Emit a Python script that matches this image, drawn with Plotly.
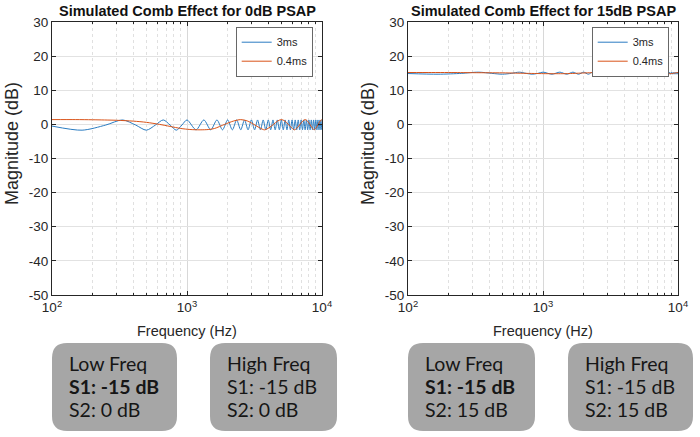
import plotly.graph_objects as go

# ---------------- data ----------------
freq_3ms = [100, 167, 250, 333, 417, 500, 583, 667, 750, 833, 917, 1000,
            1167, 1333, 1500, 1667, 1833, 2000, 2167, 2333, 2500, 2667, 2833, 3000,
            3167, 3333, 3500, 3667, 3833, 4000, 4167, 4333, 4500, 4667, 4833, 5000,
            5167, 5333, 5500, 5667, 5833, 6000, 6167, 6333, 6500, 6667, 6833, 7000,
            7167, 7333, 7500, 7667, 7833, 8000, 8167, 8333, 8500, 8667, 8833, 9000,
            9167, 9333, 9500, 9667, 9833, 10000]
mag_3ms_0dB = [-0.5, -1.7, -0.2, 1.3, -0.2, -1.7, -0.2, 1.3, -0.2, -1.7, -0.2, 1.3,
               -1.6, 1.3, -1.6, 1.3, -1.6, 1.3, -1.6, 1.3, -1.6, 1.3, -1.6, 1.3,
               -1.6, 1.3, -1.6, 1.3, -1.6, 1.3, -1.6, 1.3, -1.6, 1.3, -1.6, 1.3,
               -1.6, 1.3, -1.6, 1.3, -1.6, 1.3, -1.6, 1.3, -1.6, 1.3, -1.6, 1.3,
               -1.6, 1.3, -1.6, 1.3, -1.6, 1.3, -1.6, 1.3, -1.6, 1.3, -1.6, 1.3,
               -1.6, 1.3, -1.6, 1.3, -1.6, 1.3]
mag_3ms_15dB = [14.9, 14.7, 14.95, 15.3, 14.95, 14.7, 14.95, 15.3, 14.95, 14.7, 14.95, 15.3,
                14.7, 15.3, 14.7, 15.3, 14.7, 15.3, 14.7, 15.3, 14.7, 15.3, 14.7, 15.3,
                14.7, 15.3, 14.7, 15.3, 14.7, 15.3, 14.7, 15.3, 14.7, 15.3, 14.7, 15.3,
                14.7, 15.3, 14.7, 15.3, 14.7, 15.3, 14.7, 15.3, 14.7, 15.3, 14.7, 15.3,
                14.7, 15.3, 14.7, 15.3, 14.7, 15.3, 14.7, 15.3, 14.7, 15.3, 14.7, 15.3,
                14.7, 15.3, 14.7, 15.3, 14.7, 15.3]

freq_04ms = [100, 150, 200, 300, 400, 500, 625, 750, 900, 1050, 1250, 1450, 1600,
             1900, 2200, 2500, 2800, 3125, 3450, 3750, 4050, 4375, 4700, 5000,
             5300, 5625, 5950, 6250, 6550, 6875, 7200, 7500, 7800, 8125, 8450,
             8750, 9050, 9375, 9700, 10000]
mag_04ms_0dB = [1.4, 1.4, 1.35, 1.2, 0.95, 0.6, 0.0, -0.6, -1.2, -1.5, -1.6, -1.5, -1.2,
                0.0, 0.95, 1.4, 1.0, 0.0, -1.0, -1.6, -1.0, 0.0, 1.0, 1.4,
                1.0, 0.0, -1.0, -1.6, -1.0, 0.0, 1.0, 1.4, 1.0, 0.0, -1.0,
                -1.6, -1.0, 0.0, 1.0, 1.4]
mag_04ms_15dB = [15.2, 15.2, 15.2, 15.15, 15.12, 15.1, 15.02, 14.95, 14.9, 14.86, 14.85, 14.86, 14.9,
                 15.02, 15.12, 15.2, 15.12, 15.02, 14.92, 14.85, 14.92, 15.02, 15.12, 15.2,
                 15.12, 15.02, 14.92, 14.85, 14.92, 15.02, 15.12, 15.2, 15.12, 15.02, 14.92,
                 14.85, 14.92, 15.02, 15.12, 15.2]

series_names = ["3ms", "0.4ms"]
titles = ["Simulated Comb Effect for 0dB PSAP", "Simulated Comb Effect for 15dB PSAP"]
x_tick_vals = [100, 1000, 10000]
x_tick_text = ["10<sup>2</sup>", "10<sup>3</sup>", "10<sup>4</sup>"]
y_tick_vals = [-50, -40, -30, -20, -10, 0, 10, 20, 30]
y_tick_text = ["-50", "-40", "-30", "-20", "-10", "0", "10", "20", "30"]
box_texts = [
    ["Low Freq", "<b>S1: -15 dB</b>", "S2: 0 dB"],
    ["High Freq", "S1: -15 dB", "S2: 0 dB"],
    ["Low Freq", "<b>S1: -15 dB</b>", "S2: 15 dB"],
    ["High Freq", "S1: -15 dB", "S2: 15 dB"],
]

# ---------------- layout helpers ----------------
W, H = 700, 437
def px(x): return x / W
def py(y): return 1 - y / H

BLUE = "#2a7cc2"
ORANGE = "#D95319"
AX = "#262626"
FONT = "Liberation Sans, Arial, sans-serif"

fig = go.Figure()

plots = [
    dict(xa="x", ya="y", x0=52, x1=322, d3=mag_3ms_0dB, d04=mag_04ms_0dB, leg="legend"),
    dict(xa="x2", ya="y2", x0=408, x1=678, d3=mag_3ms_15dB, d04=mag_04ms_15dB, leg="legend2"),
]
top, bottom = 22, 295

for p in plots:
    fig.add_trace(go.Scatter(x=freq_3ms, y=p["d3"], mode="lines", name=series_names[0],
                             line=dict(color=BLUE, width=1.0, shape="spline", smoothing=0.8),
                             xaxis=p["xa"], yaxis=p["ya"], legend=p["leg"]))
    fig.add_trace(go.Scatter(x=freq_04ms, y=p["d04"], mode="lines", name=series_names[1],
                             line=dict(color=ORANGE, width=1.0, shape="spline", smoothing=0.8),
                             xaxis=p["xa"], yaxis=p["ya"], legend=p["leg"]))

def xaxis_cfg(x0, x1, anchor):
    return dict(type="log", range=[2, 4], domain=[px(x0), px(x1)], anchor=anchor,
                tickmode="array", tickvals=x_tick_vals, ticktext=x_tick_text,
                ticks="inside", ticklen=4, tickcolor=AX, automargin=False,
                showline=True, linecolor=AX, linewidth=1, mirror="ticks",
                showgrid=True, gridcolor="#d8d8d8", gridwidth=1,
                tickfont=dict(family=FONT, size=13.5, color=AX),
                minor=dict(dtick="D1", showgrid=True, griddash="dot", gridcolor="#e0e0e0",
                           gridwidth=0.8, ticks="inside", ticklen=2, tickcolor=AX),
                zeroline=False, fixedrange=True)

def yaxis_cfg(anchor):
    return dict(range=[-50, 30], domain=[py(bottom), py(top)], anchor=anchor,
                tickmode="array", tickvals=y_tick_vals, ticktext=y_tick_text,
                ticks="inside", ticklen=4, tickcolor=AX, automargin=False,
                showline=True, linecolor=AX, linewidth=1, mirror="ticks",
                showgrid=True, gridcolor="#e2e2e2", gridwidth=1,
                tickfont=dict(family=FONT, size=13.5, color=AX),
                zeroline=False, fixedrange=True)

legend_common = dict(bgcolor="white", bordercolor=AX, borderwidth=0.7,
                     font=dict(family=FONT, size=11, color=AX),
                     xanchor="right", yanchor="top", tracegroupgap=0,
                     itemwidth=30)

fig.update_layout(
    width=W, height=H, autosize=False,
    margin=dict(l=0, r=0, t=0, b=0, pad=0, autoexpand=False),
    paper_bgcolor="white", plot_bgcolor="white",
    xaxis=xaxis_cfg(52, 322, "y"),
    yaxis=yaxis_cfg("x"),
    xaxis2=xaxis_cfg(408, 678, "y2"),
    yaxis2=yaxis_cfg("x2"),
    legend=dict(x=px(313), y=py(27), **legend_common),
    legend2=dict(x=px(669), y=py(27), **legend_common),
)

annotations = []
for i, p in enumerate(plots):
    cx = (p["x0"] + p["x1"]) / 2
    annotations.append(dict(x=px(cx), y=py(11), xref="paper", yref="paper", showarrow=False,
                            text="<b>" + titles[i] + "</b>", xanchor="center", yanchor="middle",
                            font=dict(family=FONT, size=14.5, color="#111111")))
    annotations.append(dict(x=px(cx), y=py(331), xref="paper", yref="paper", showarrow=False,
                            text="Frequency (Hz)", xanchor="center", yanchor="middle",
                            font=dict(family=FONT, size=14.5, color=AX)))
    annotations.append(dict(x=px(p["x0"] - 40), y=py(144), xref="paper", yref="paper",
                            showarrow=False, text="Magnitude (dB)", textangle=-90,
                            xanchor="center", yanchor="middle",
                            font=dict(family=FONT, size=18, color=AX)))

def rounded_path(x0, y0, x1, y1, r):
    return (f"M {px(x0 + r)},{py(y0)} L {px(x1 - r)},{py(y0)} "
            f"Q {px(x1)},{py(y0)} {px(x1)},{py(y0 + r)} L {px(x1)},{py(y1 - r)} "
            f"Q {px(x1)},{py(y1)} {px(x1 - r)},{py(y1)} L {px(x0 + r)},{py(y1)} "
            f"Q {px(x0)},{py(y1)} {px(x0)},{py(y1 - r)} L {px(x0)},{py(y0 + r)} "
            f"Q {px(x0)},{py(y0)} {px(x0 + r)},{py(y0)} Z")

boxes = [(52, 177), (210, 337), (408, 535), (568, 693)]
shapes = []
for (bx0, bx1), lines in zip(boxes, box_texts):
    shapes.append(dict(type="path", xref="paper", yref="paper",
                       path=rounded_path(bx0, 343, bx1, 431, 15),
                       fillcolor="#a6a6a6", line=dict(width=0), layer="above"))
    for j, t in enumerate(lines):
        annotations.append(dict(x=px(bx0 + 15), y=py(363 + 23 * j), xref="paper", yref="paper",
                                showarrow=False, text=t, xanchor="left", yanchor="middle",
                                font=dict(family="Lato, Carlito, sans-serif", size=19.5, color="#161616")))

fig.update_layout(annotations=annotations, shapes=shapes)
fig.write_html("out.html", config={"displayModeBar": False},
               post_script="document.body.style.margin='0';document.body.style.overflow='hidden';")
